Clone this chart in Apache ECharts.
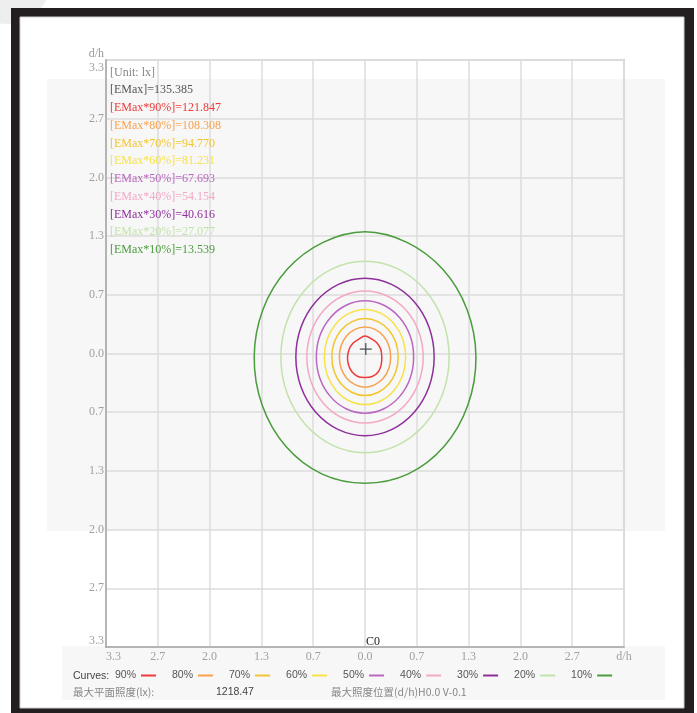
<!DOCTYPE html>
<html><head><meta charset="utf-8">
<script src="https://cdn.jsdelivr.net/npm/echarts@6/dist/echarts.min.js"></script>
<style>html,body{margin:0;padding:0;background:#fff;}#c{width:697px;height:713px;}</style>
</head><body><div id="c"></div>
<script>
// ---- data ----
const levelNames  = ['90%','80%','70%','60%','50%','40%','30%','20%','10%'];
const levelValues = ['121.847','108.308','94.770','81.231','67.693','54.154','40.616','27.077','13.539'];
const levelColors = ['#ee3a3a','#f8a24e','#f2c52e','#f7e24c','#bb66c2','#f2a8c6','#8e2f9c','#c2e2ac','#4a9c3c'];
const eMax = '135.385';
const unitText = '[Unit: lx]';
const maxIllum = '1218.47';
const maxPosText = 'H0.0 V-0.1';
const xTickLabels = ['3.3','2.7','2.0','1.3','0.7','0.0','0.7','1.3','2.0','2.7','d/h'];
const yTickLabels = ['3.3','2.7','2.0','1.3','0.7','0.0','0.7','1.3','2.0','2.7','3.3'];
// contour radii (d/h) read at fixed angles around the contour centre
const angleDeg = [0,22.5,45,67.5,90,112.5,135,157.5,180,202.5,225,247.5,270,292.5,315,337.5];
const contourCenter = [0, -0.04];
const r90 = [0.216,0.220,0.222,0.222,0.240,0.218,0.220,0.222,0.225,0.230,0.238,0.240,0.232,0.240,0.240,0.226];
const r80 = [0.330,0.333,0.336,0.340,0.342,0.340,0.336,0.333,0.330,0.333,0.337,0.340,0.342,0.340,0.337,0.333];
const r70 = [0.427,0.430,0.433,0.436,0.438,0.436,0.433,0.430,0.427,0.430,0.433,0.436,0.438,0.436,0.433,0.430];
const r60 = [0.523,0.527,0.532,0.537,0.540,0.537,0.532,0.527,0.523,0.527,0.532,0.537,0.540,0.537,0.532,0.527];
const r50 = [0.626,0.629,0.632,0.636,0.638,0.636,0.632,0.629,0.626,0.629,0.632,0.636,0.638,0.636,0.632,0.629];
const r40 = [0.749,0.749,0.750,0.750,0.750,0.750,0.750,0.749,0.749,0.749,0.750,0.750,0.750,0.750,0.750,0.749];
const r30 = [0.890,0.891,0.892,0.893,0.894,0.893,0.892,0.891,0.890,0.891,0.892,0.893,0.894,0.893,0.892,0.891];
const r20 = [1.083,1.084,1.085,1.086,1.087,1.086,1.085,1.084,1.083,1.084,1.085,1.086,1.087,1.086,1.085,1.084];
const r10 = [1.428,1.420,1.412,1.410,1.423,1.410,1.412,1.420,1.426,1.432,1.438,1.440,1.434,1.440,1.438,1.432];
const contourRadii = [r90,r80,r70,r60,r50,r40,r30,r20,r10];
const maxPos = [0.01, 0.05];

// ---- chart ----
const step = 2/3;
const axMin = -5*step, axMax = 5*step;
const serif = 'Liberation Serif, Times New Roman, serif';
const sans = 'Liberation Sans, Arial, sans-serif';
const cjk = 'Noto Sans CJK SC, sans-serif';

function tickIdx(v){ return Math.round((v - axMin)/step); }

function contourSeries(k){
  const pts = angleDeg.map((a,i)=>[
    contourCenter[0] + contourRadii[k][i]*Math.cos(a*Math.PI/180),
    contourCenter[1] + contourRadii[k][i]*Math.sin(a*Math.PI/180)
  ]);
  return {
    type:'custom', name: levelNames[k], coordinateSystem:'cartesian2d',
    data: pts, silent:true, clip:true, itemStyle:{color: levelColors[k]},
    renderItem: function(params, api){
      if (params.dataIndex !== 0) return {type:'group', children:[]};
      return {type:'polygon', shape:{points: pts.map(p=>api.coord(p)), smooth:0.35},
        style:{fill:'none', stroke: levelColors[k], lineWidth:1.5}};
    }
  };
}

const series = levelNames.map((n,k)=>contourSeries(k));
series.push({
  type:'custom', name:'max', coordinateSystem:'cartesian2d', data:[maxPos], silent:true,
  renderItem: function(params, api){
    const c = api.coord([api.value(0), api.value(1)]);
    return {type:'group', children:[
      {type:'line', shape:{x1:c[0]-6,y1:c[1],x2:c[0]+6,y2:c[1]}, style:{stroke:'#555',lineWidth:1.3}},
      {type:'line', shape:{x1:c[0],y1:c[1]-6,x2:c[0],y2:c[1]+6}, style:{stroke:'#555',lineWidth:1.3}}
    ]};
  }
});

const legendTexts = [{t:unitText,c:'#888'},{t:'[EMax]='+eMax,c:'#555'}]
  .concat(levelNames.map((n,i)=>({t:'[EMax*'+n+']='+levelValues[i], c: levelColors[i]})));

const graphics = [
  {type:'circle', shape:{cx:6,cy:-22,r:46}, style:{fill:'#eeeeee'}, z:-120},
  {type:'rect', shape:{x:11,y:8,width:683,height:715}, style:{fill:'#231f20'}, z:-110},
  {type:'rect', shape:{x:20,y:17,width:664,height:691}, style:{fill:'#ffffff', stroke:'#cfcfcf', lineWidth:1}, z:-105},
  {type:'rect', shape:{x:47,y:79,width:618,height:452}, style:{fill:'#f7f7f7'}, z:-100},
  {type:'rect', shape:{x:62,y:646,width:603,height:54}, style:{fill:'#f7f7f7'}, z:-100},
  {type:'text', x:366, y:642, style:{text:'C0', font:'12px '+serif, fill:'#222', verticalAlign:'middle'}, z:100},
  {type:'text', x:73, y:676, style:{text:'Curves:', font:'10.5px '+sans, fill:'#444', verticalAlign:'middle'}, z:100},
  {type:'text', x:73, y:692, style:{text:'最大平面照度(lx):', font:'10.5px '+cjk, fill:'#888', verticalAlign:'middle'}, z:100},
  {type:'text', x:216, y:692, style:{text:maxIllum, font:'10.5px '+sans, fill:'#444', verticalAlign:'middle'}, z:100},
  {type:'text', x:331, y:692, style:{text:'最大照度位置(d/h)'+maxPosText, font:'10.5px '+cjk, fill:'#888', verticalAlign:'middle'}, z:100}
];
legendTexts.forEach((o,i)=>{
  graphics.push({type:'text', x:110, y:72.5 + i*17.75, style:{text:o.t, font:'12px '+serif, fill:o.c, verticalAlign:'middle'}, z:100});
});

const chart = echarts.init(document.getElementById('c'));
chart.setOption({
  animation:false,
  backgroundColor:'#ffffff',
  grid:{left:106, top:60, width:518, height:587, show:true, borderColor:'#aaa', borderWidth:1.5, backgroundColor:'transparent'},
  xAxis:{type:'value', min:axMin, max:axMax, interval:step,
    axisLine:{show:true, onZero:false, lineStyle:{color:'#aaa', width:1.5}}, axisTick:{show:false},
    axisLabel:{margin:4, color:'#a0a0a0', fontFamily:serif, fontSize:12,
      formatter:(v)=>xTickLabels[tickIdx(v)] || '', alignMinLabel:'left', alignMaxLabel:'left'},
    splitLine:{show:true, lineStyle:{color:'#dcdcdc', width:1.5}}},
  yAxis:{type:'value', min:axMin, max:axMax, interval:step,
    name:'d/h', nameLocation:'end', nameGap:0,
    nameTextStyle:{align:'right', verticalAlign:'bottom', color:'#999', fontFamily:serif, fontSize:12, padding:[0,2,0,0]},
    axisLine:{show:true, onZero:false, lineStyle:{color:'#aaa', width:1.5}}, axisTick:{show:false},
    axisLabel:{margin:2, color:'#a0a0a0', fontFamily:serif, fontSize:12,
      formatter:(v)=>{
        const i = tickIdx(v);
        const s = yTickLabels[i] || '';
        return i === 10 ? '{top|' + s + '}' : s;
      },
      rich:{top:{padding:[16,0,0,0], color:'#a0a0a0', fontFamily:serif, fontSize:12}},
      verticalAlignMinLabel:'bottom'},
    splitLine:{show:true, lineStyle:{color:'#dcdcdc', width:1.5}}},
  legend:{data: levelNames.map((n,i)=>({name:n, itemStyle:{color:levelColors[i]}})),
    left:115, top:670, padding:0, align:'right', icon:'rect', itemWidth:15, itemHeight:2, itemGap:16,
    selectedMode:false, textStyle:{fontFamily:sans, fontSize:10.5, color:'#555'}},
  graphic: graphics,
  series: series
});
</script>
</body></html>
